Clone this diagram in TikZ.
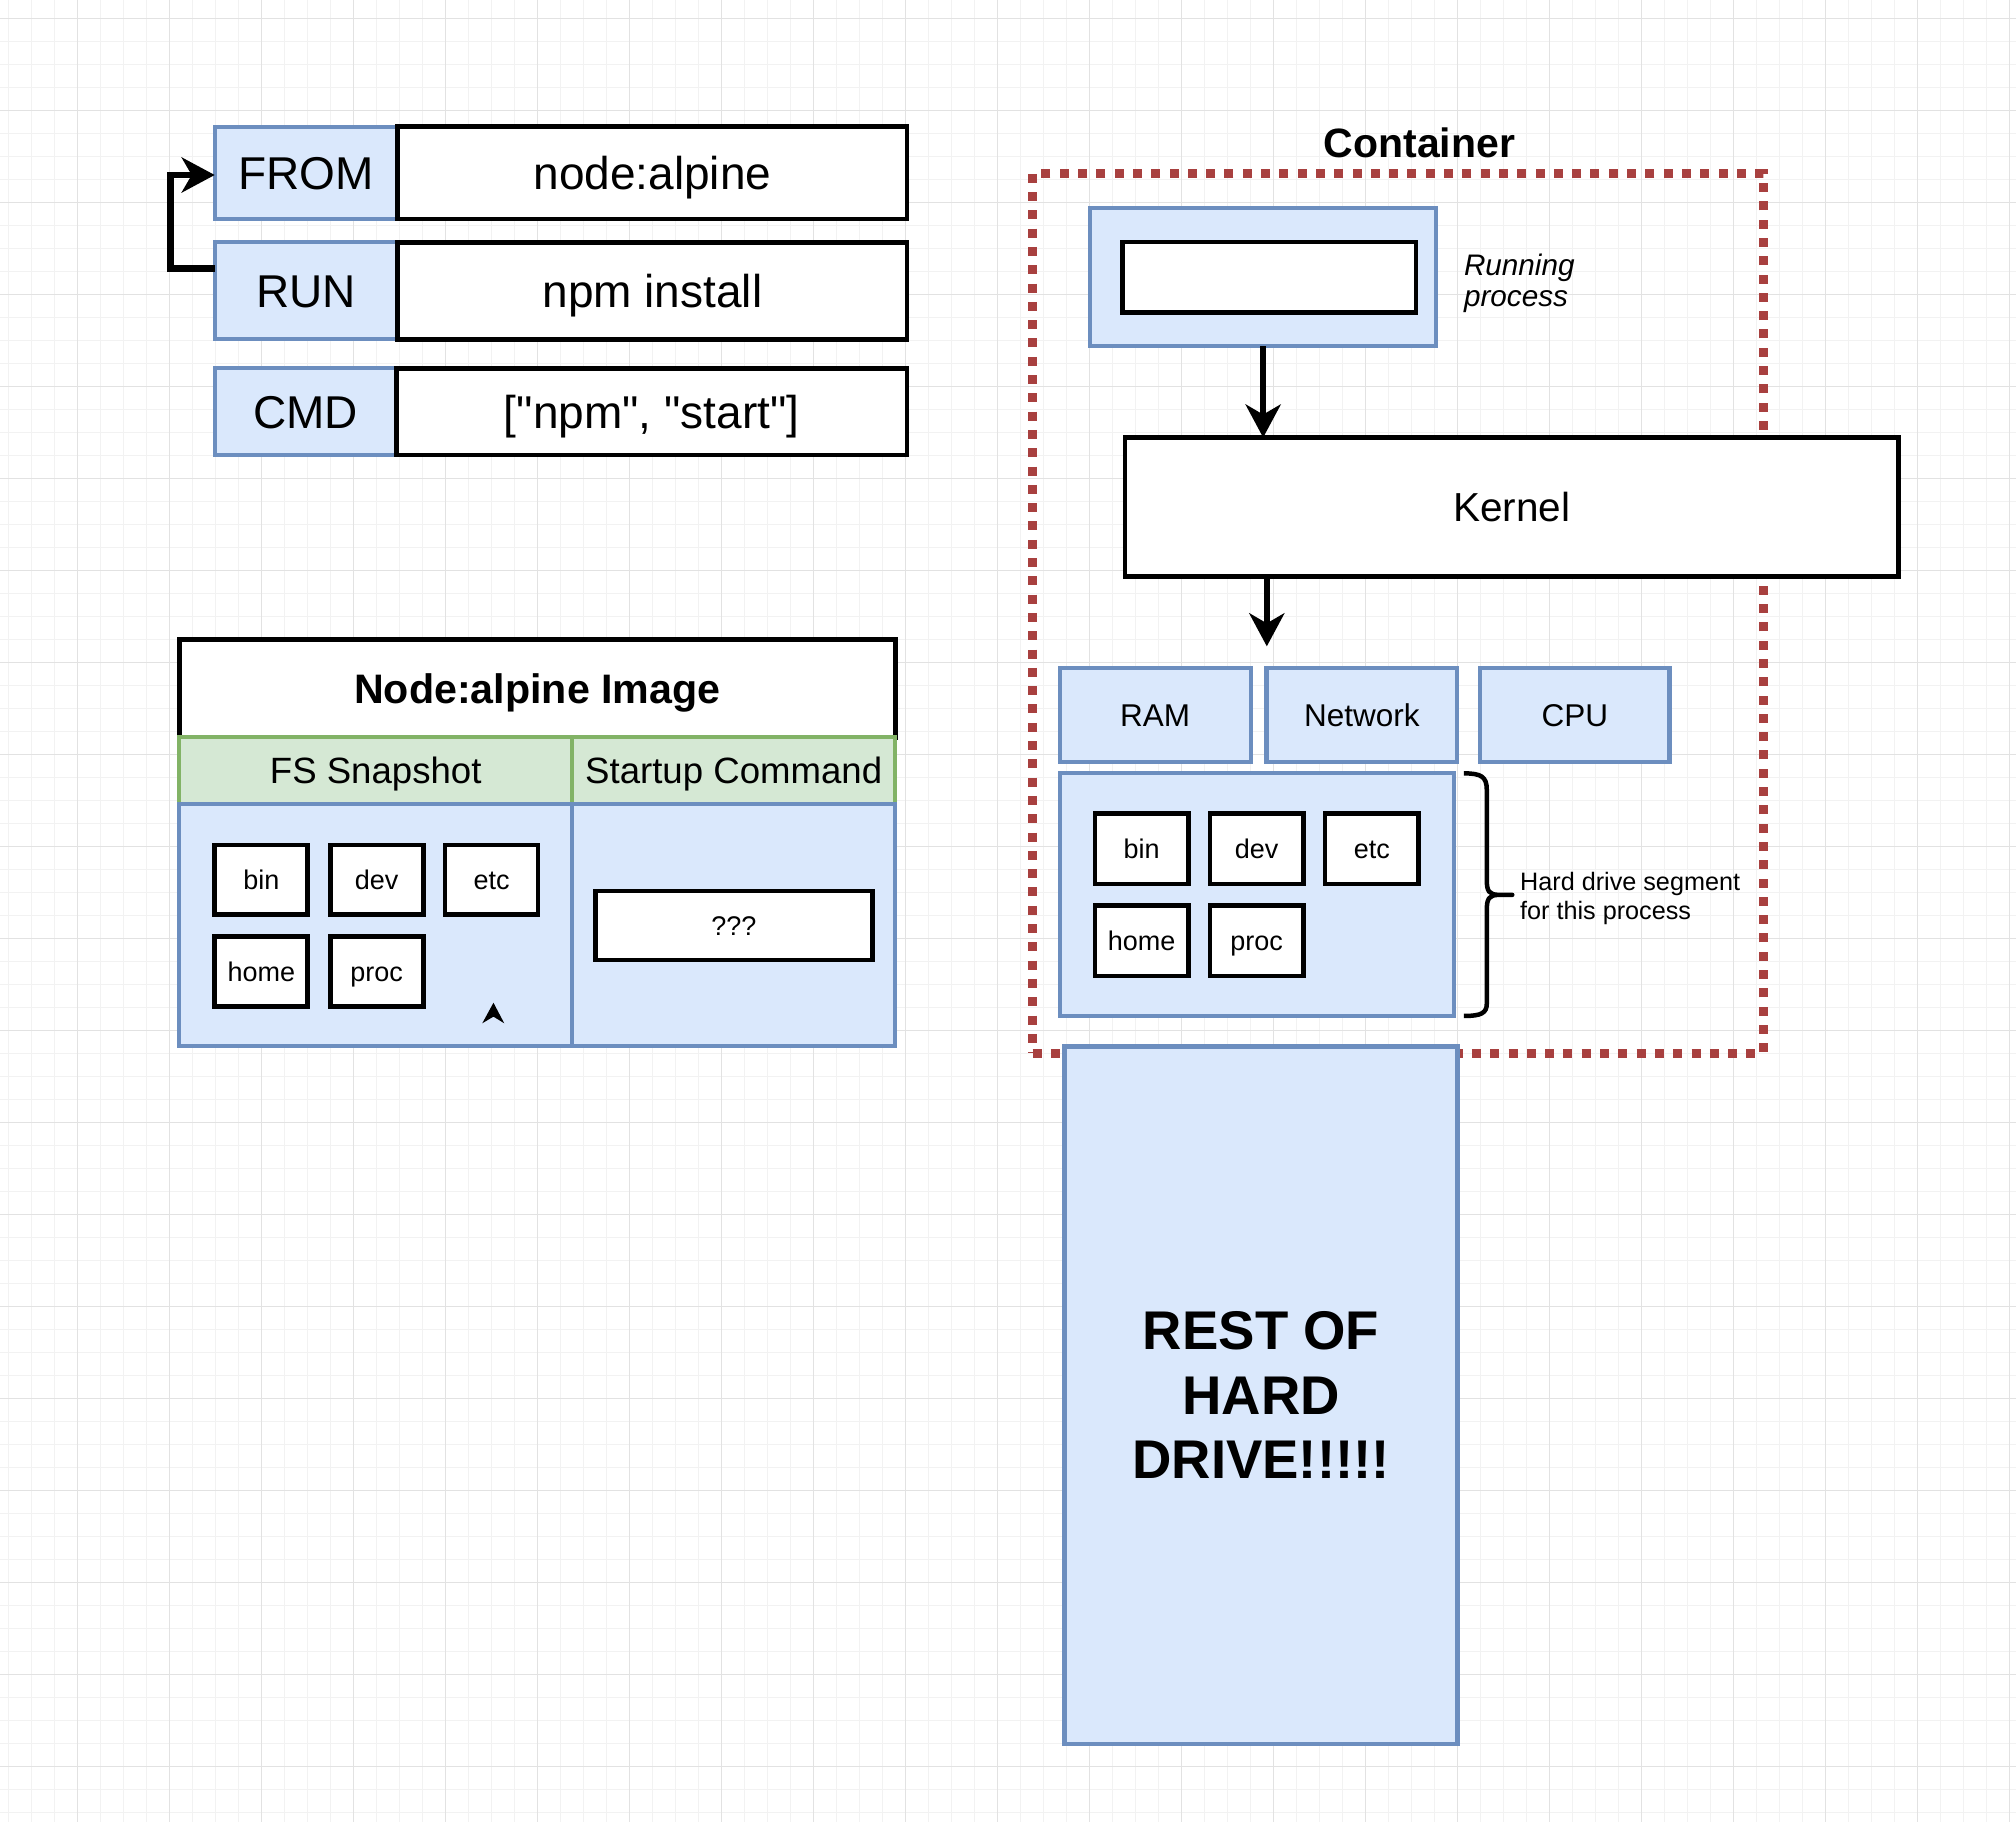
\documentclass[tikz,border=0pt]{standalone}
\usepackage{fontspec}
\setmainfont{Liberation Sans}[Ligatures=TeXOff]
\usetikzlibrary{arrows.meta}
\definecolor{bfill}{HTML}{DAE8FC}
\definecolor{bstroke}{HTML}{6C8EBF}
\definecolor{gfill}{HTML}{D5E8D4}
\definecolor{gstroke}{HTML}{82B366}
\definecolor{dred}{HTML}{A8403F}
\definecolor{gmin}{HTML}{F2F2F2}
\definecolor{gmaj}{HTML}{E2E2E2}
\newcommand\bx[7]{\node[#2, minimum width={((#5)-(#3))*1.285714pt}, minimum height={((#6)-(#4))*1.285714pt}] (#1) at ({((#3)+(#5))/2},{((#4)+(#6))/2}) {#7};}
\begin{document}
\begin{tikzpicture}[x=1.285714pt,y=-1.285714pt,
 bluebox/.style={draw=bstroke,fill=bfill,line width=4.2pt,inner sep=0pt,outer sep=0pt},
 blackbox/.style={draw=black,fill=white,line width=4.7pt,inner sep=0pt,outer sep=0pt},
 greenbox/.style={draw=gstroke,fill=gfill,line width=4.2pt,inner sep=0pt,outer sep=0pt},
 dotbox/.style={draw=dred,line width=9pt,dash pattern=on 9pt off 9.3pt,inner sep=0pt,outer sep=0pt},
 arr/.style={line width=6.5pt,-{Stealth[length=33pt,width=35pt,inset=10pt]}},
 fbig/.style={font=\fontsize{46}{55}\selectfont,text height=32.9pt,text depth=0pt},
 fhead/.style={font=\fontsize{41.2}{49}\selectfont\bfseries,text height=29.5pt,text depth=0pt},
 fcol/.style={font=\fontsize{36.6}{44}\selectfont,text height=26.2pt,text depth=0pt},
 fsm/.style={font=\fontsize{27}{32}\selectfont,text height=19.3pt,text depth=0pt},
 fsys/.style={font=\fontsize{31.5}{38}\selectfont,text height=22.6pt,text depth=0pt},
 fker/.style={font=\fontsize{40.5}{48}\selectfont,text height=29pt,text depth=0pt},
 fcont/.style={font=\fontsize{41}{49}\selectfont\bfseries,text height=29.4pt,text depth=0pt,inner sep=0pt},
 gridmin/.style={draw=gmin,line width=1.2pt},
 gridmaj/.style={draw=gmaj,line width=1.3pt},
]
\useasboundingbox (0,0) rectangle (1568,1417);
\fill[white] (0,0) rectangle (1568,1417);
% grid
\foreach \i in {0,...,87} {\draw[gridmin] ({6.43+17.889*\i},0) -- ({6.43+17.889*\i},1417);}
\foreach \i in {0,...,78} {\draw[gridmin] (0,{14.5+17.889*\i}) -- (1568,{14.5+17.889*\i});}
\foreach \i in {0,...,21} {\draw[gridmaj] ({60.1+71.556*\i},0) -- ({60.1+71.556*\i},1417);}
\foreach \i in {0,...,19} {\draw[gridmaj] (0,{14.5+71.556*\i}) -- (1568,{14.5+71.556*\i});}

% Dockerfile block
\bx{from}{bluebox,fbig}{167}{98.5}{309.3}{170.3}{FROM}
\bx{fromv}{blackbox,fbig}{309.3}{98.5}{705.5}{170.3}{node:alpine}
\bx{run}{bluebox,fbig}{167}{188.5}{309.3}{263.9}{RUN}
\bx{runv}{blackbox,fbig}{309.3}{188.5}{705.5}{263.9}{npm install}
\bx{cmd}{bluebox,fbig}{167}{286.5}{308.2}{353.9}{CMD}
\bx{cmdv}{blackbox,fbig}{308.2}{286.5}{705.5}{353.9}{["npm", "start"]}
\coordinate (loopc) at (132.7,208.7);
\draw[arr] (loopc -| run.west) -- (loopc) |- ([yshift=-2.2pt]from.west);

% Image table
\bx{imghead}{blackbox,fhead}{139.5}{497.3}{696.4}{573.5}{Node:alpine Image}
\bx{fsh}{greenbox,fcol}{139.5}{573.5}{444.9}{625.3}{FS Snapshot}
\bx{sch}{greenbox,fcol}{444.9}{573.5}{696.4}{625.3}{Startup Command}
\bx{fsb}{bluebox}{139.5}{625.3}{444.9}{813.6}{}
\bx{scb}{bluebox}{444.9}{625.3}{696.4}{813.6}{}
\bx{ibin}{blackbox,fsm}{167.1}{657.2}{239.4}{711.4}{bin}
\bx{idev}{blackbox,fsm}{256.8}{657.2}{329.2}{711.4}{dev}
\bx{ietc}{blackbox,fsm}{346.1}{657.2}{418.5}{711.4}{etc}
\bx{ihome}{blackbox,fsm}{167.1}{728.5}{239.4}{783}{home}
\bx{iproc}{blackbox,fsm}{256.8}{728.5}{329.2}{783}{proc}
\bx{qqq}{blackbox,fsm}{463}{693}{678.7}{746.7}{???}
\fill (383.8,779.9) -- (392.2,795.9) -- (383.8,790.7) -- (375.1,795.9) -- cycle;

% Container
\bx{container}{dotbox,fill=none}{803.2}{134.7}{1371.6}{819.3}{}
\node[fcont] (contlabel) at (1104,111) {Container};
\bx{runbox}{bluebox}{847.8}{161.7}{1117.1}{269.4}{}
\bx{runinner}{blackbox}{872.8}{188.3}{1101.4}{243.1}{}
\node[anchor=north west,inner sep=0pt,align=left,font=\fontsize{29.7}{31.4}\selectfont\itshape] (runlabel) at (1138.5,197.4) {Running\\process};
\bx{kernel}{blackbox,fker}{875.1}{340.3}{1476.5}{448.6}{Kernel}
\draw[arr] (runbox.south) -- (runbox.south |- kernel.north);
\coordinate (kend) at (985.3,502.7);
\draw[arr] (kend |- kernel.south) -- (kend);
\bx{ram}{bluebox,fsys}{824.3}{519.8}{972.7}{592.4}{RAM}
\bx{net}{bluebox,fsys}{985}{519.8}{1133.4}{592.4}{Network}
\bx{cpu}{bluebox,fsys}{1151.3}{519.8}{1298.5}{592.4}{CPU}
\bx{hdseg}{bluebox}{824.3}{601}{1130.7}{790.2}{}
\bx{cbin}{blackbox,fsm}{851.7}{632.6}{924.3}{687.6}{bin}
\bx{cdev}{blackbox,fsm}{941}{632.6}{1013.6}{687.6}{dev}
\bx{cetc}{blackbox,fsm}{1030.6}{632.6}{1103.3}{687.6}{etc}
\bx{chome}{blackbox,fsm}{851.7}{704.4}{924.3}{759.1}{home}
\bx{cproc}{blackbox,fsm}{941}{704.4}{1013.6}{759.1}{proc}
\draw[line width=4.5pt,line join=round] (1138.6,601.5) .. controls (1152,601.5) and (1156.4,604) .. (1156.4,614.5) -- (1156.4,684.5) .. controls (1156.4,693) and (1158,696) .. (1166,696) -- (1176.2,696) -- (1166,696) .. controls (1158,696) and (1156.4,699) .. (1156.4,707.8) -- (1156.4,780.4) .. controls (1156.4,788) and (1152,790.2) .. (1138.6,790.2);
\node[anchor=north west,inner sep=0pt,align=left,font=\fontsize{25.2}{29.3}\selectfont] (hdlabel) at (1182.2,678.2) {Hard drive segment\\for this process};
\bx{rest}{bluebox,align=center,font=\fontsize{54.5}{64.4}\selectfont\bfseries}{828}{814}{1133.6}{1356.4}{REST OF\\HARD\\DRIVE!!!!!}
\end{tikzpicture}
\end{document}
